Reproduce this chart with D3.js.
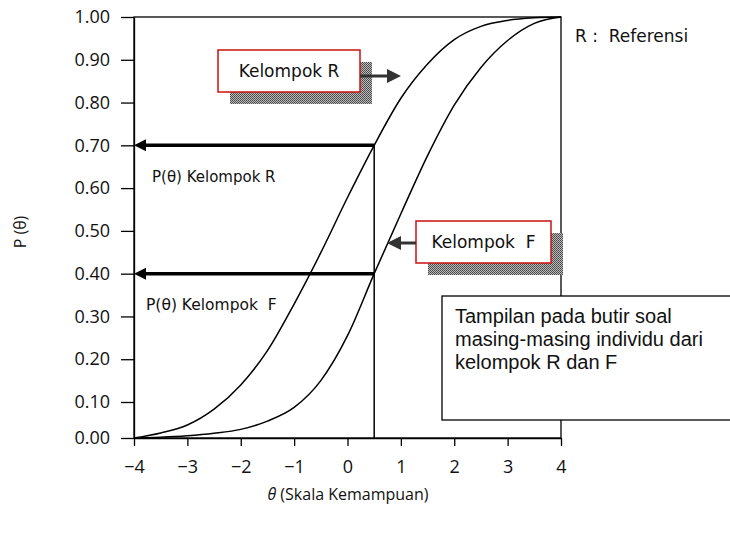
<!DOCTYPE html>
<html lang="en">
<head>
    <meta charset="UTF-8">
    <script src="https://d3js.org/d3.v7.min.js"></script>
    <title>Kurva P(theta) Kelompok R dan F</title>
    <style>
        body { margin: 0; background: #fff; }
        svg text { font-family: "Open Sans", sans-serif; fill: #111; }
        .ann { font-family: "DejaVu Sans", sans-serif; }
        .note { font-family: "Liberation Sans", sans-serif; }
    </style>
</head>
<body>
    <div id="chart"></div>
    <script>
        // values
        const xTicks = [-4, -3, -2, -1, 0, 1, 2, 3, 4];
        const yTicks = [0, 0.1, 0.2, 0.3, 0.4, 0.5, 0.6, 0.7, 0.8, 0.9, 1.0];

        // kelompok R (left curve)
        const thetaR = [-4, -3.5, -3, -2.5, -2, -1.5, -1, -0.5, 0, 0.5, 1, 1.5, 2, 2.5, 3, 3.5, 4];
        const pR     = [0, 0.014, 0.036, 0.08, 0.14, 0.22, 0.329, 0.449, 0.578, 0.70, 0.81, 0.89, 0.947, 0.978, 0.992, 0.998, 1];

        // kelompok F (right curve)
        const thetaF = [-4, -3.5, -3, -2.5, -2, -1.5, -1, -0.5, 0, 0.5, 1, 1.5, 2, 2.5, 3, 3.5, 4];
        const pF     = [0, 0.002, 0.006, 0.013, 0.024, 0.047, 0.085, 0.15, 0.255, 0.40, 0.54, 0.676, 0.794, 0.882, 0.945, 0.985, 1];

        const thetaCut = 0.5;
        const pCutR = 0.70;
        const pCutF = 0.40;

        const w = 730, h = 534;
        const svg = d3.select("#chart").append("svg")
            .attr("width", w)
            .attr("height", h);

        const x = d3.scaleLinear().domain([-4, 4]).range([134, 561]);
        // the printed axis has a short first step (0.00 -> 0.10)
        const y = d3.scaleLinear().domain([0, 0.1, 1]).range([438, 402, 17]);

        // halftone pattern for the shadows
        const defs = svg.append("defs");
        const pat = defs.append("pattern")
            .attr("id", "dots")
            .attr("width", 2).attr("height", 2)
            .attr("patternUnits", "userSpaceOnUse");
        pat.append("rect").attr("width", 2).attr("height", 2).attr("fill", "#bbb");
        pat.append("rect").attr("width", 1).attr("height", 1).attr("fill", "#444");
        pat.append("rect").attr("x", 1).attr("y", 1).attr("width", 1).attr("height", 1).attr("fill", "#555");

        // frame
        svg.append("rect")
            .attr("x", x(-4)).attr("y", y(1))
            .attr("width", x(4) - x(-4)).attr("height", y(0) - y(1))
            .attr("fill", "none").attr("stroke", "#000").attr("stroke-width", 1.3);

        // axes
        const yAxis = d3.axisLeft(y).tickValues(yTicks).tickFormat(d3.format(".2f"))
            .tickSize(13).tickSizeOuter(0).tickPadding(11);
        const xAxis = d3.axisBottom(x).tickValues(xTicks).tickFormat(d3.format("d"))
            .tickSize(8).tickSizeOuter(0).tickPadding(14);

        svg.append("g")
            .attr("transform", "translate(" + x(-4) + ",0)")
            .call(yAxis)
            .call(g => g.selectAll("text").style("font-size", "18px").attr("fill", "#111"))
            .call(g => g.selectAll("line,path").attr("stroke", "#000").attr("stroke-width", 1.3));

        svg.append("g")
            .attr("transform", "translate(0," + y(0) + ")")
            .call(xAxis)
            .call(g => g.selectAll("text").style("font-size", "18px").attr("fill", "#111"))
            .call(g => g.selectAll("line,path").attr("stroke", "#000").attr("stroke-width", 1.3));

        // curves
        const line = d3.line()
            .x(d => x(d[0]))
            .y(d => y(d[1]))
            .curve(d3.curveMonotoneX);

        [[thetaR, pR], [thetaF, pF]].forEach(function (s) {
            svg.append("path")
                .datum(s[0].map((t, i) => [t, s[1][i]]))
                .attr("d", line)
                .attr("fill", "none")
                .attr("stroke", "#000")
                .attr("stroke-width", 1.5);
        });

        // vertical cut at theta = 0.5
        svg.append("line")
            .attr("x1", x(thetaCut)).attr("x2", x(thetaCut))
            .attr("y1", y(0)).attr("y2", y(pCutR))
            .attr("stroke", "#000").attr("stroke-width", 1.5);

        // horizontal arrows to the P axis
        [pCutR, pCutF].forEach(function (p) {
            const yy = y(p);
            svg.append("line")
                .attr("x1", x(thetaCut)).attr("x2", x(-4) + 10)
                .attr("y1", yy).attr("y2", yy)
                .attr("stroke", "#000").attr("stroke-width", 3.5);
            svg.append("path")
                .attr("d", "M" + x(-4) + "," + yy + "l12,-6v12z")
                .attr("fill", "#000");
        });

        // text box
        svg.append("rect")
            .attr("x", 442).attr("y", 296).attr("width", 320).attr("height", 124)
            .attr("fill", "#fff").attr("stroke", "#000").attr("stroke-width", 1.3);
        const notes = ["Tampilan pada butir soal", "masing-masing individu dari", "kelompok R dan F"];
        svg.append("g").selectAll("text")
            .data(notes)
            .join("text")
            .attr("class", "note")
            .attr("x", 455)
            .attr("y", (d, i) => 323 + i * 23)
            .style("font-size", "20px")
            .text(d => d);

        // labelled boxes with shadow + arrow
        function tagBox(bx, by, bw, bh, label, arrowFrom, arrowTip, ay) {
            svg.append("rect")
                .attr("x", bx + 12).attr("y", by + 12).attr("width", bw).attr("height", bh)
                .attr("fill", "url(#dots)");
            svg.append("rect")
                .attr("x", bx).attr("y", by).attr("width", bw).attr("height", bh)
                .attr("fill", "#fff").attr("stroke", "#cc1111").attr("stroke-width", 1.5);
            svg.append("text")
                .attr("class", "ann")
                .attr("x", bx + bw / 2).attr("y", by + bh / 2 + 6)
                .attr("text-anchor", "middle")
                .style("font-size", "17px")
                .style("white-space", "pre")
                .text(label);
            const dir = arrowTip > arrowFrom ? 1 : -1;
            svg.append("line")
                .attr("x1", arrowFrom).attr("x2", arrowTip - dir * 10)
                .attr("y1", ay).attr("y2", ay)
                .attr("stroke", "#333").attr("stroke-width", 3);
            svg.append("path")
                .attr("d", "M" + arrowTip + "," + ay + "l" + (-dir * 14) + ",-7v14z")
                .attr("fill", "#333");
        }
        tagBox(218, 50, 142, 42, "Kelompok R", 360, 401, 76);
        tagBox(416, 221, 135, 42, "Kelompok  F", 416, 387, 243);

        // labels
        svg.append("text").attr("class", "ann")
            .attr("x", 152).attr("y", 182)
            .style("font-size", "15px")
            .text("P(θ) Kelompok R");
        svg.append("text").attr("class", "ann")
            .attr("x", 146).attr("y", 310)
            .style("font-size", "15.5px")
            .style("white-space", "pre")
            .text("P(θ) Kelompok  F");
        svg.append("text").attr("class", "ann")
            .attr("x", 575).attr("y", 42)
            .style("font-size", "17px")
            .style("white-space", "pre")
            .text("R :  Referensi");

        svg.append("text")
            .attr("transform", "translate(26,232) rotate(-90)")
            .attr("text-anchor", "middle")
            .style("font-size", "16px")
            .text("P (θ)");

        const xl = svg.append("text")
            .attr("x", 348).attr("y", 500)
            .attr("text-anchor", "middle")
            .style("font-size", "16px");
        xl.append("tspan").style("font-style", "italic").text("θ");
        xl.append("tspan").text(" (Skala Kemampuan)");
    </script>
</body>
</html>
